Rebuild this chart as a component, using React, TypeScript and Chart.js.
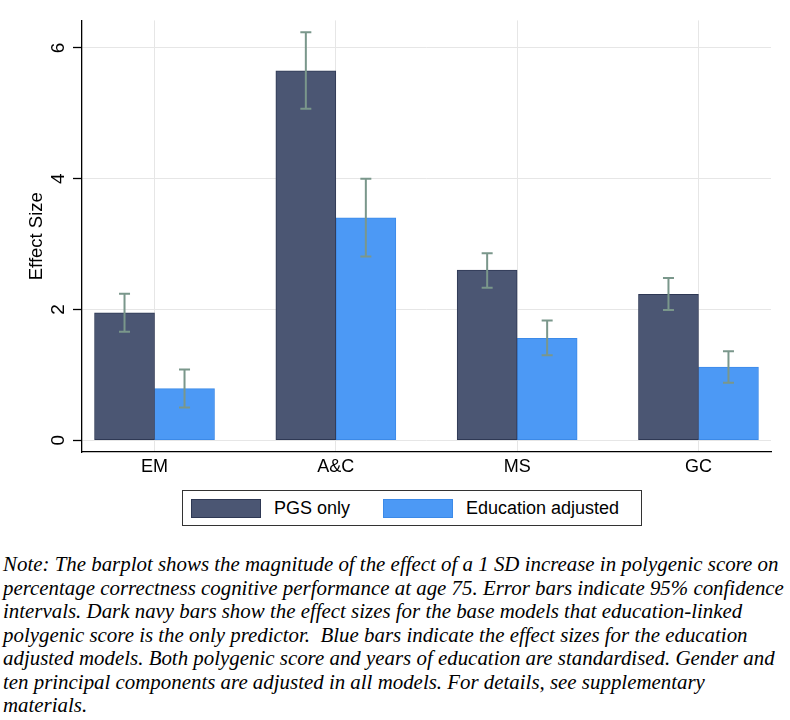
import React, { useEffect, useRef } from "react";
import { Chart, registerables } from "chart.js";

Chart.register(...registerables);

const categories = ["EM", "A&C", "MS", "GC"];
const categoryPositions = [1, 2, 3, 4];
const seriesNames = ["PGS only", "Education adjusted"];
const pgsValues = [1.95, 5.65, 2.6, 2.23];
const pgsLower = [1.66, 5.07, 2.33, 1.99];
const pgsUpper = [2.24, 6.24, 2.86, 2.48];
const eduValues = [0.79, 3.4, 1.56, 1.12];
const eduLower = [0.5, 2.81, 1.3, 0.88];
const eduUpper = [1.08, 4.0, 1.83, 1.36];
const yTickValues = [0, 2, 4, 6];

const noteLines = [
  "Note: The barplot shows the magnitude of the effect of a 1 SD increase in polygenic score on",
  "percentage correctness cognitive performance at age 75. Error bars indicate 95% confidence",
  "intervals. Dark navy bars show the effect sizes for the base models that education-linked",
  "polygenic score is the only predictor.  Blue bars indicate the effect sizes for the education",
  "adjusted models. Both polygenic score and years of education are standardised. Gender and",
  "ten principal components are adjusted in all models. For details, see supplementary",
  "materials.",
];

const DARK = "#4b5673";
const DARK_BORDER = "#2e3854";
const BLUE = "#4c99f5";
const BLUE_BORDER = "#3c8ae8";
const ERR = "#7a978b";
const SANS = "'Liberation Sans', Arial, sans-serif";

const errorBarPlugin = {
  id: "errorBars",
  afterDatasetsDraw(chart: any) {
    const ctx = chart.ctx;
    const yScale = chart.scales.y;
    const bounds = [
      [pgsLower, pgsUpper],
      [eduLower, eduUpper],
    ];
    ctx.save();
    ctx.strokeStyle = ERR;
    ctx.lineWidth = 2;
    chart.data.datasets.forEach((_ds: any, di: number) => {
      const meta = chart.getDatasetMeta(di);
      meta.data.forEach((bar: any, i: number) => {
        const x = bar.x;
        const yLo = yScale.getPixelForValue(bounds[di][0][i]);
        const yHi = yScale.getPixelForValue(bounds[di][1][i]);
        const cap = 5.5;
        ctx.beginPath();
        ctx.moveTo(x, yLo);
        ctx.lineTo(x, yHi);
        ctx.moveTo(x - cap, yLo);
        ctx.lineTo(x + cap, yLo);
        ctx.moveTo(x - cap, yHi);
        ctx.lineTo(x + cap, yHi);
        ctx.stroke();
      });
    });
    ctx.restore();
  },
};

export default function App() {
  const canvasRef = useRef<HTMLCanvasElement | null>(null);

  useEffect(() => {
    const canvas = canvasRef.current;
    if (!canvas) return;
    const chart = new Chart(canvas, {
      type: "bar",
      data: {
        datasets: [
          {
            label: seriesNames[0],
            data: categoryPositions.map((x, i) => ({ x, y: pgsValues[i] })),
            backgroundColor: DARK,
            borderColor: DARK_BORDER,
            borderWidth: 1,
            borderSkipped: false,
          },
          {
            label: seriesNames[1],
            data: categoryPositions.map((x, i) => ({ x, y: eduValues[i] })),
            backgroundColor: BLUE,
            borderColor: BLUE_BORDER,
            borderWidth: 1,
            borderSkipped: false,
          },
        ],
      },
      options: {
        animation: false,
        responsive: false,
        maintainAspectRatio: false,
        barThickness: 60,
        layout: { padding: { left: 0, right: 19, top: 2, bottom: 0 } },
        plugins: {
          legend: { display: false },
          tooltip: { enabled: false },
        },
        scales: {
          x: {
            type: "linear",
            min: 0.6,
            max: 4.4,
            offset: false,
            afterBuildTicks: (scale: any) => {
              scale.ticks = categoryPositions.map((v) => ({ value: v }));
            },
            afterFit: (scale: any) => {
              scale.height = 38;
            },
            ticks: {
              callback: (v: any) => {
                const idx = categoryPositions.indexOf(Number(v));
                return idx >= 0 ? categories[idx] : "";
              },
              color: "#000",
              font: { family: SANS, size: 18 },
              padding: 4,
              maxRotation: 0,
              minRotation: 0,
            },
            grid: {
              color: "#e6e6e6",
              lineWidth: 1,
              drawTicks: false,
              offset: false,
            },
            border: { color: "#000", width: 1.3 },
          },
          y: {
            type: "linear",
            min: -0.18,
            max: 6.42,
            afterBuildTicks: (scale: any) => {
              scale.ticks = yTickValues.map((v) => ({ value: v }));
            },
            afterFit: (scale: any) => {
              scale.width = 82;
            },
            ticks: {
              color: "#000",
              font: { family: SANS, size: 19 },
              minRotation: 90,
              maxRotation: 90,
              crossAlign: "center",
              padding: 9,
            },
            grid: {
              color: "#e6e6e6",
              lineWidth: 1,
              tickLength: 9,
              tickColor: "#000",
              tickWidth: 1.3,
            },
            border: { color: "#000", width: 1.3 },
            title: {
              display: true,
              text: "Effect Size",
              color: "#000",
              font: { family: SANS, size: 18.5 },
              padding: { top: 26, bottom: 0 },
            },
          },
        },
      } as any,
      plugins: [errorBarPlugin],
    });
    return () => chart.destroy();
  }, []);

  return (
    <div style={{ position: "absolute", left: 0, top: 0, width: 790, height: 720, background: "#fff" }}>
      <canvas ref={canvasRef} width={790} height={490} style={{ position: "absolute", left: 0, top: 0, width: 790, height: 490 }} />
      <div
        style={{
          position: "absolute",
          left: 182,
          top: 490,
          width: 460,
          height: 36,
          boxSizing: "border-box",
          border: "1px solid #333",
          fontFamily: SANS,
          fontSize: 18,
          color: "#000",
        }}
      >
        <div style={{ position: "absolute", left: 8, top: 8, width: 70, height: 19, boxSizing: "border-box", background: DARK, border: `1px solid ${DARK_BORDER}` }} />
        <div style={{ position: "absolute", left: 91, top: 0, lineHeight: "34px", whiteSpace: "nowrap" }}>{seriesNames[0]}</div>
        <div style={{ position: "absolute", left: 200, top: 8, width: 70, height: 19, boxSizing: "border-box", background: BLUE, border: `1px solid ${BLUE_BORDER}` }} />
        <div style={{ position: "absolute", left: 283, top: 0, lineHeight: "34px", whiteSpace: "nowrap" }}>{seriesNames[1]}</div>
      </div>
      <div
        style={{
          position: "absolute",
          left: 3,
          top: 553,
          fontFamily: "'Liberation Serif', 'Times New Roman', serif",
          fontStyle: "italic",
          fontSize: 20.9,
          lineHeight: "23.5px",
          color: "#000",
        }}
      >
        {noteLines.map((line, i) => (
          <div key={i} style={{ whiteSpace: "pre" }}>
            {line}
          </div>
        ))}
      </div>
    </div>
  );
}
